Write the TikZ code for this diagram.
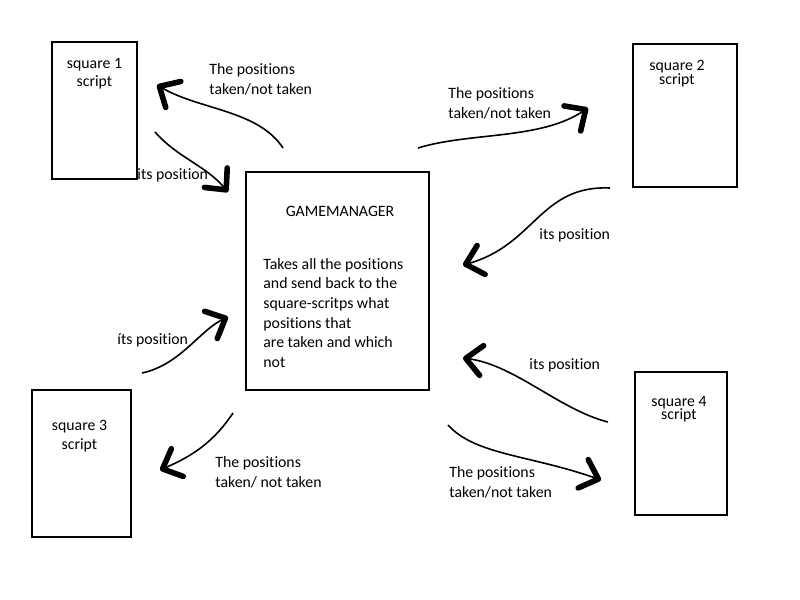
\documentclass[tikz,border=0pt]{standalone}
\usepackage{fontspec}
\setmainfont{Carlito}[Ligatures=NoCommon]
\usetikzlibrary{arrows.meta,positioning}

\begin{document}
\begin{tikzpicture}[
  x=0.5pt, y=-0.5pt,
  font=\fontsize{7.9}{9.8}\selectfont,
  script/.style={draw, line width=1.1pt, inner sep=0pt},
  caption/.style={align=center, inner sep=0pt, anchor=north},
  tight/.style={caption, font=\fontsize{7.9}{6.75}\selectfont},
  note/.style={align=left, anchor=west, inner sep=0pt, font=\fontsize{7.9}{10}\selectfont},
  flow/.style={line width=0.8pt,
    -{Straight Barb[length=8pt, width=15pt, line width=2.8pt, round]}}
]
\useasboundingbox (0,0) rectangle (800,600);

% square scripts and the manager
\node[script, minimum width=42.5pt, minimum height=68.5pt] (sq1) at (94.5,110.5) {};
\node[script, minimum width=52pt, minimum height=71.5pt] (sq2) at (685,115.5) {};
\node[script, minimum width=49.5pt, minimum height=73.5pt] (sq3) at (81.5,463.5) {};
\node[script, minimum width=46pt, minimum height=71.5pt] (sq4) at (681,443.5) {};
\node[script, minimum width=91.5pt, minimum height=109pt] (gm) at (337.5,281) {};

\node[caption, font=\fontsize{7.9}{9.25}\selectfont, below=8.5pt of sq1.north] (sq1-text) {square 1\\script};
\node[tight, below=8.5pt of sq2.north, xshift=-4pt] (sq2-text) {square 2\\script};
\node[caption, font=\fontsize{7.9}{9.5}\selectfont, below=15.5pt of sq3.north, xshift=-1pt] (sq3-text) {square 3\\script};
\node[tight, below=12.3pt of sq4.north, xshift=-1pt] (sq4-text) {square 4\\script};

\node[inner sep=0pt, below=17.5pt of gm.north, xshift=1.25pt] (gm-title) {GAMEMANAGER};
\node[inner sep=0pt, align=left, anchor=north west] (gm-text) at (263,258) {
  Takes all the positions\\
  and send back to the\\
  square-scritps what\\
  positions that\\
  are taken and which\\
  not
};

% labels
\node[note] (l-sq1-back) at (209,79) {The positions\\taken/not taken};
\node[note] (l-sq1-pos) at (137,175) {its position};
\node[note] (l-sq2-back) at (448,103) {The positions\\taken/not taken};
\node[note] (l-sq2-pos) at (539,235) {its position};
\node[note] (l-sq3-pos) at (117,340) {íts position};
\node[note] (l-sq4-pos) at (529,365) {its position};
\node[note] (l-sq3-back) at (215,472) {The positions\\taken/ not taken};
\node[note] (l-sq4-back) at (449,482) {The positions\\taken/not taken};

% arrow ends
\coordinate (gm-out-1) at (283,148);  \coordinate (sq1-in) at (157,85);
\coordinate (sq1-out) at (155,132);   \coordinate (gm-in-1) at (228,192);
\coordinate (gm-out-2) at (418,148);  \coordinate (sq2-in) at (588,108);
\coordinate (sq2-out) at (610,188);   \coordinate (gm-in-2) at (463,265);
\coordinate (sq3-out) at (142,373);   \coordinate (gm-in-3) at (228,317);
\coordinate (sq4-out) at (608,422);   \coordinate (gm-in-4) at (463,358);
\coordinate (gm-out-3) at (233,413);  \coordinate (sq3-in) at (160,470);
\coordinate (gm-out-4) at (448,425);  \coordinate (sq4-in) at (601,480);

\draw[flow] (gm-out-1) .. controls (258,110) and (200,110) .. (sq1-in);
\draw[flow] (sq1-out) .. controls (178,158) and (205,165) .. (gm-in-1);
\draw[flow] (gm-out-2) .. controls (470,132) and (540,140) .. (sq2-in);
\draw[flow] (sq2-out) .. controls (540,185) and (535,245) .. (gm-in-2);
\draw[flow] (sq3-out) .. controls (180,365) and (200,330) .. (gm-in-3);
\draw[flow] (sq4-out) .. controls (560,410) and (515,365) .. (gm-in-4);
\draw[flow] (gm-out-3) .. controls (215,440) and (195,455) .. (sq3-in);
\draw[flow] (gm-out-4) .. controls (475,455) and (530,455) .. (sq4-in);
\end{tikzpicture}
\end{document}
